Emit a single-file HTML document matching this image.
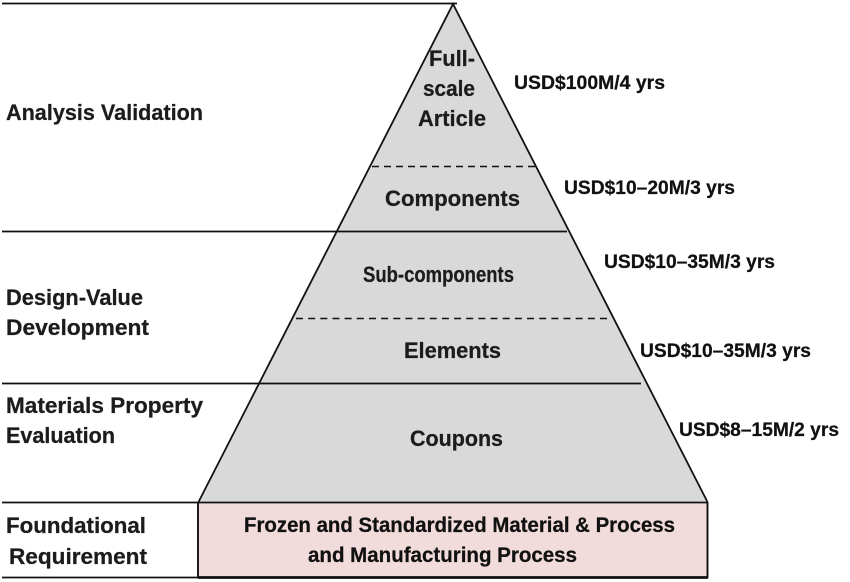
<!DOCTYPE html>
<html>
<head>
<meta charset="utf-8">
<style>
html,body{margin:0;padding:0;background:#fff;width:850px;height:582px;overflow:hidden}
svg{display:block}
text{font-family:"Liberation Sans",sans-serif;font-weight:bold;fill:#1c1c1c;stroke:#1c1c1c;stroke-width:.25px}
.a{font-size:22px}
.b{font-size:21px;fill:#111;stroke:#111}
.c{font-size:19px;fill:#111;stroke:#111}
</style>
</head>
<body>
<svg width="850" height="582" viewBox="0 0 850 582" xmlns="http://www.w3.org/2000/svg">
<polygon points="453,4 707,502 198,502" fill="#d9d9d9"/>
<rect x="198" y="503" width="509" height="74" fill="#f2dcdb"/>
<g stroke="#111" fill="none">
<path d="M198.500 502 L453 4 L707.500 502" stroke-width="1.800"/>
<path d="M2 3.500H457M2 231.500H567M2 383.500H641M2 502.500H707" stroke-width="1.800"/>
<path d="M2 577.500H198" stroke-width="1.800"/>
<path d="M198 577.500H708" stroke-width="2.800"/>
<path d="M198 502V578M707.500 502V578" stroke-width="1.900"/>
<path d="M372 166.500H535" stroke-width="1.600" stroke-dasharray="7 5"/>
<path d="M296 318.500H607" stroke-width="1.600" stroke-dasharray="7 5.160"/>
</g>
<g>
<text class="a" x="6" y="120" textLength="197" lengthAdjust="spacingAndGlyphs">Analysis Validation</text>
<text class="a" x="6" y="305" textLength="137" lengthAdjust="spacingAndGlyphs">Design-Value</text>
<text class="a" x="6" y="335" textLength="143" lengthAdjust="spacingAndGlyphs">Development</text>
<text class="a" x="6" y="413" textLength="197" lengthAdjust="spacingAndGlyphs">Materials Property</text>
<text class="a" x="6" y="443" textLength="109" lengthAdjust="spacingAndGlyphs">Evaluation</text>
<text class="a" x="6" y="533" textLength="140" lengthAdjust="spacingAndGlyphs">Foundational</text>
<text class="a" x="9" y="564" textLength="138" lengthAdjust="spacingAndGlyphs">Requirement</text>
</g>
<g>
<text class="a" x="429" y="66" textLength="46" lengthAdjust="spacingAndGlyphs">Full-</text>
<text class="a" x="423" y="96" textLength="52" lengthAdjust="spacingAndGlyphs">scale</text>
<text class="a" x="418" y="126" textLength="68" lengthAdjust="spacingAndGlyphs">Article</text>
<text class="a" x="385" y="206" textLength="135" lengthAdjust="spacingAndGlyphs">Components</text>
<text class="a" x="363" y="282" textLength="151" lengthAdjust="spacingAndGlyphs">Sub-components</text>
<text class="a" x="404" y="358" textLength="97" lengthAdjust="spacingAndGlyphs">Elements</text>
<text class="a" x="410" y="446" textLength="93" lengthAdjust="spacingAndGlyphs">Coupons</text>
<text class="b" x="244" y="532" textLength="431" lengthAdjust="spacingAndGlyphs">Frozen and Standardized Material &amp; Process</text>
<text class="b" x="308" y="562" textLength="269" lengthAdjust="spacingAndGlyphs">and Manufacturing Process</text>
</g>
<g>
<text class="c" x="514" y="89" textLength="151" lengthAdjust="spacingAndGlyphs">USD$100M/4 yrs</text>
<text class="c" x="564" y="194" textLength="171" lengthAdjust="spacingAndGlyphs">USD$10–20M/3 yrs</text>
<text class="c" x="604" y="268" textLength="171" lengthAdjust="spacingAndGlyphs">USD$10–35M/3 yrs</text>
<text class="c" x="640" y="357" textLength="171" lengthAdjust="spacingAndGlyphs">USD$10–35M/3 yrs</text>
<text class="c" x="679" y="436" textLength="160" lengthAdjust="spacingAndGlyphs">USD$8–15M/2 yrs</text>
</g>
</svg>
</body>
</html>
